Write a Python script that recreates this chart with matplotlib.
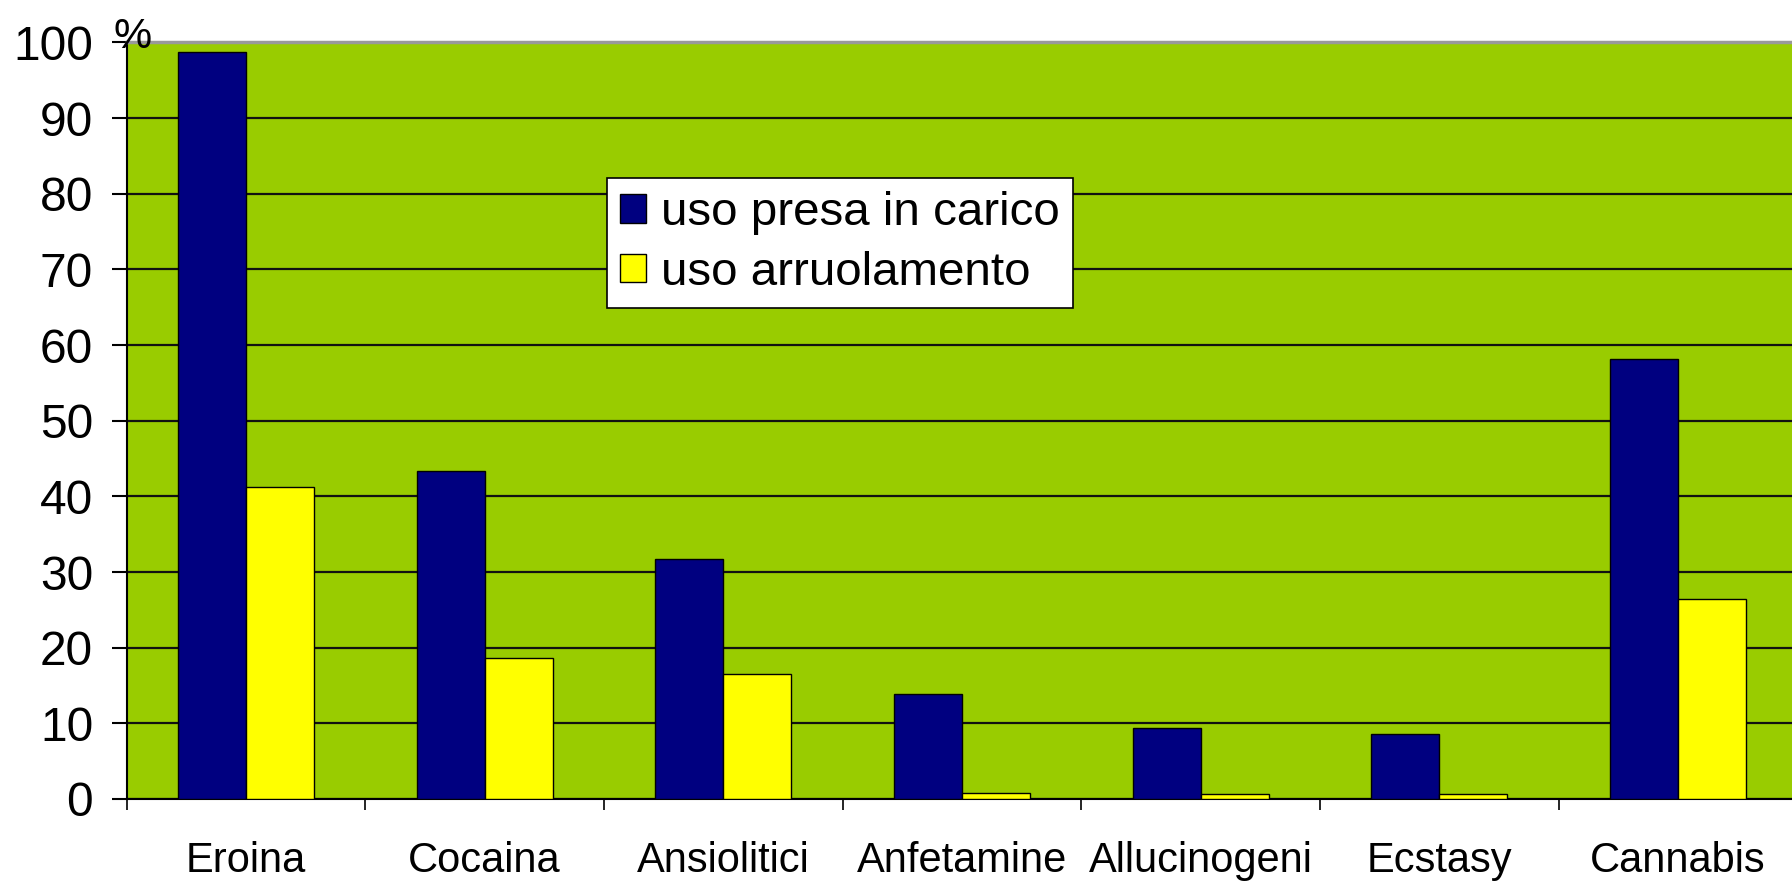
import matplotlib
matplotlib.use("Agg")
import matplotlib.pyplot as plt
import numpy as np

# ---------------------------------------------------------------------------
# Data (percent)
# ---------------------------------------------------------------------------
categories = ["Eroina", "Cocaina", "Ansiolitici", "Anfetamine",
              "Allucinogeni", "Ecstasy", "Cannabis"]
presa_in_carico = [98.8, 43.3, 31.7, 13.9, 9.4, 8.6, 58.1]
arruolamento = [41.3, 18.6, 16.5, 0.8, 0.6, 0.6, 26.4]
y_ticks = [0, 10, 20, 30, 40, 50, 60, 70, 80, 90, 100]

plt.rcParams["font.family"] = ["Liberation Sans", "DejaVu Sans"]

W, H = 1792, 882
fig = plt.figure(figsize=(W / 100, H / 100), dpi=100)
# plot area runs slightly past the right edge, as in the original
ax = fig.add_axes([126.5 / W, 1 - 799 / H, 1671 / W, (799 - 42.5) / H])
ax.set_facecolor("#99CC00")

x = np.arange(len(categories))
bw = 0.285
ax.bar(x - bw / 2, presa_in_carico, bw, color="#000080", edgecolor="black",
       linewidth=1.0, label="uso presa in carico", zorder=3)
ax.bar(x + bw / 2, arruolamento, bw, color="#FFFF00", edgecolor="black",
       linewidth=1.0, label="uso arruolamento", zorder=3)

ax.set_xlim(-0.5, len(categories) - 0.5)
ax.set_ylim(0, 100)
ax.set_yticks(y_ticks)
ax.yaxis.grid(True, color="#111111", linewidth=1.6)
ax.set_axisbelow(True)

# category labels at centres, tick marks at boundaries
ax.set_xticks(x)
ax.set_xticklabels(categories, fontsize=30)
ax.set_xticks(np.arange(len(categories) + 1) - 0.5, minor=True)
ax.tick_params(axis="x", which="major", length=0, pad=30)
ax.tick_params(axis="x", which="minor", length=8, width=1.2, color="black")
ax.tick_params(axis="y", length=11, width=1.5, pad=13, labelsize=34.5)

for side in ["left", "bottom"]:
    ax.spines[side].set_color("black")
    ax.spines[side].set_linewidth(1.5)
ax.spines["right"].set_visible(False)
ax.spines["top"].set_color("#999999")
ax.spines["top"].set_linewidth(2.5)

fig.text(113 / W, 1 - 48 / H, "%", fontsize=31, ha="left", va="baseline")

leg = ax.legend(loc="upper left", bbox_to_anchor=(607 / W, 1 - 178 / H),
                bbox_transform=fig.transFigure, borderaxespad=0,
                fontsize=34.2, frameon=True, fancybox=False, framealpha=1,
                edgecolor="black", handlelength=0.55, handleheight=0.55,
                handletextpad=0.3, labelspacing=0.33, borderpad=0.28)
leg.get_frame().set_linewidth(1.2)

fig.savefig("out.png", dpi=100, facecolor="white")
